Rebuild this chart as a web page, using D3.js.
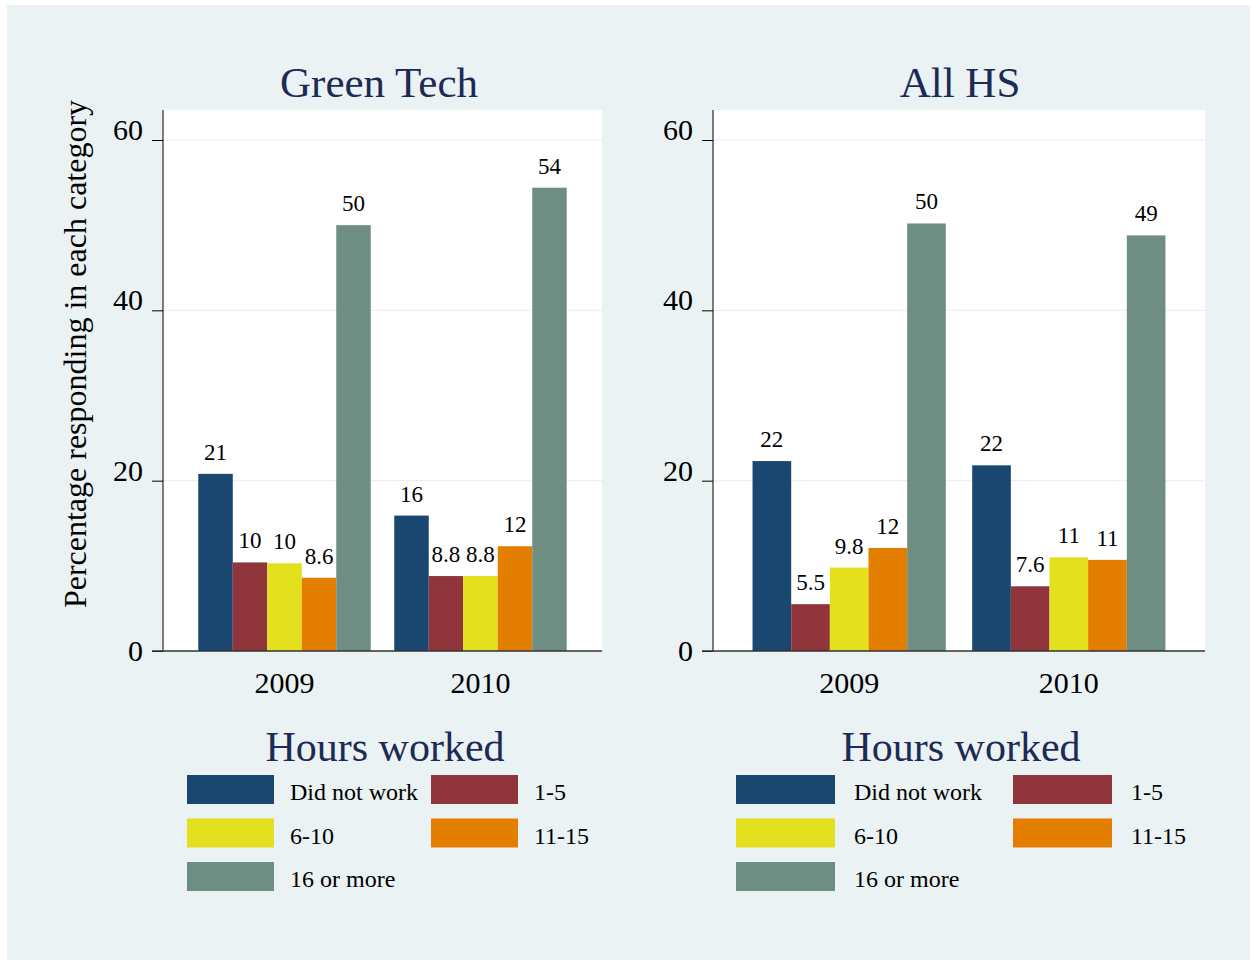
<!doctype html>
<html lang="en">
<head>
<meta charset="utf-8">
<title>Hours worked</title>
<script src="https://cdn.jsdelivr.net/npm/d3@7"></script>
<style>
  body { margin: 0; background: #fff; }
  svg text { font-family: "Liberation Serif", "Times New Roman", serif; }
</style>
</head>
<body>
<svg id="chart" width="1253" height="962"></svg>
<script>
// data
var years = ["2009", "2010"];
var hours = ["Did not work", "1-5", "6-10", "11-15", "16 or more"];
var colors = ["#1a476f", "#90353b", "#e4e01e", "#e37e00", "#6e8e84"];
var greenTech2009 = [20.8, 10.4, 10.3, 8.6, 50.0];
var greenTech2010 = [15.9, 8.8, 8.8, 12.3, 54.4];
var allHS2009 = [22.3, 5.5, 9.8, 12.1, 50.2];
var allHS2010 = [21.8, 7.6, 11.0, 10.7, 48.8];
var yTicks = [0, 20, 40, 60];

var svg = d3.select("#chart");
var fmt = d3.format(".2g");
var titleColor = "#1c2a55";

svg.append("rect").attr("x", 7).attr("y", 5).attr("width", 1243).attr("height", 955)
  .attr("fill", "#eaf2f3");

svg.append("text")
  .attr("transform", "translate(86,354) rotate(-90)")
  .attr("text-anchor", "middle")
  .attr("font-size", 32)
  .attr("fill", "#000")
  .text("Percentage responding in each category");

function panel(o) {
  var g = svg.append("g");
  var y = d3.scaleLinear().domain([0, 60]).range([651, 140]);
  var x0 = d3.scaleBand().domain(years).range([o.left, o.right]).paddingInner(0.12).paddingOuter(0.18);
  var x1 = d3.scaleBand().domain(hours).range([0, x0.bandwidth()]);
  var col = d3.scaleOrdinal().domain(hours).range(colors);

  g.append("rect").attr("x", o.left).attr("y", 110)
    .attr("width", o.right - o.left).attr("height", 651 - 110).attr("fill", "#fff");

  // grid
  g.selectAll(".grid").data(yTicks.slice(1)).enter().append("line")
    .attr("x1", o.left).attr("x2", o.right)
    .attr("y1", function(d) { return y(d); }).attr("y2", function(d) { return y(d); })
    .attr("stroke", "#e6eff0").attr("stroke-width", 1);

  var rows = [];
  years.forEach(function(yr, i) {
    o.values[i].forEach(function(v, j) { rows.push({ year: yr, key: hours[j], v: v }); });
  });

  g.selectAll(".bar").data(rows).enter().append("rect")
    .attr("x", function(d) { return x0(d.year) + x1(d.key); })
    .attr("y", function(d) { return y(d.v); })
    .attr("width", x1.bandwidth())
    .attr("height", function(d) { return y(0) - y(d.v); })
    .attr("fill", function(d) { return col(d.key); });

  g.selectAll(".lbl").data(rows).enter().append("text")
    .attr("x", function(d) { return x0(d.year) + x1(d.key) + x1.bandwidth() / 2; })
    .attr("y", function(d) { return y(d.v) - 14; })
    .attr("text-anchor", "middle")
    .attr("font-size", 23)
    .text(function(d) { return fmt(d.v); });

  // y axis
  var ya = g.append("g").attr("transform", "translate(" + o.left + ",0)")
    .call(d3.axisLeft(y).tickValues(yTicks).tickSize(11).tickPadding(9));
  ya.select(".domain").attr("d", "M0,110V651").attr("stroke", "#000");
  ya.selectAll(".tick line").attr("stroke", "#000");
  ya.selectAll(".tick text").attr("font-size", 30).attr("fill", "#000")
    .attr("font-family", "Liberation Serif, serif")
    .attr("dy", function(d) { return d === 0 ? "0.3em" : "-0.02em"; });

  // baseline and x labels
  g.append("line").attr("x1", o.left - 11).attr("x2", o.right)
    .attr("y1", 651).attr("y2", 651).attr("stroke", "#333").attr("stroke-width", 1.5);
  g.selectAll(".xl").data(years).enter().append("text")
    .attr("x", function(d) { return x0(d) + x0.bandwidth() / 2; })
    .attr("y", 693)
    .attr("text-anchor", "middle")
    .attr("font-size", 30)
    .text(function(d) { return d; });

  // title
  g.append("text").attr("x", o.titleX).attr("y", 97)
    .attr("text-anchor", "middle").attr("font-size", 43).attr("fill", titleColor)
    .text(o.title);

  // legend
  g.append("text").attr("x", o.legX).attr("y", 761)
    .attr("text-anchor", "middle").attr("font-size", 42).attr("fill", titleColor)
    .text("Hours worked");
  var leg = g.selectAll(".leg").data(hours).enter().append("g")
    .attr("transform", function(d, i) {
      return "translate(" + o.legCols[i % 2] + "," + (775 + Math.floor(i / 2) * 43.5) + ")";
    });
  leg.append("rect").attr("width", o.swW).attr("height", 29)
    .attr("fill", function(d) { return col(d); });
  leg.append("text").attr("x", o.swW + o.swGap).attr("y", 25)
    .attr("font-size", 24).text(function(d) { return d; });
}

panel({ left: 163, right: 602, title: "Green Tech", titleX: 379, legX: 385,
  values: [greenTech2009, greenTech2010], legCols: [187, 431], swW: 87, swGap: 16 });
panel({ left: 713, right: 1205, title: "All HS", titleX: 960, legX: 961,
  values: [allHS2009, allHS2010], legCols: [736, 1013], swW: 99, swGap: 19 });
</script>
</body>
</html>
